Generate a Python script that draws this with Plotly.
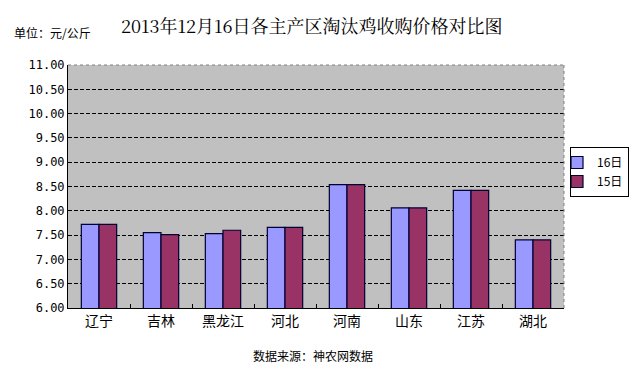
import plotly.graph_objects as go

categories = ["辽宁", "吉林", "黑龙江", "河北", "河南", "山东", "江苏", "湖北"]
series_16 = [7.72, 7.55, 7.53, 7.66, 8.54, 8.06, 8.42, 7.40]
series_15 = [7.72, 7.51, 7.60, 7.66, 8.54, 8.06, 8.42, 7.40]
tick_vals = [6.0, 6.5, 7.0, 7.5, 8.0, 8.5, 9.0, 9.5, 10.0, 10.5, 11.0]
tick_text = ["%.2f" % v for v in tick_vals]

W, H = 630, 368
L, R, T, B = 68, 66, 65, 60
pw, ph = W - L - R, H - T - B
def px(xp): return (xp - L) / pw
def py(yp): return (H - B - yp) / ph

fig = go.Figure()
fig.add_trace(go.Bar(name="16日", x=categories, y=series_16,
                     marker=dict(color="#9999FF", line=dict(color="#000033", width=1.2))))
fig.add_trace(go.Bar(name="15日", x=categories, y=series_15,
                     marker=dict(color="#993366", line=dict(color="#000033", width=1.2))))

fig.update_layout(
    width=W, height=H,
    margin=dict(l=L, r=R, t=T, b=B, autoexpand=False),
    paper_bgcolor="white", plot_bgcolor="#C0C0C0",
    barmode="group", bargap=0.43, bargroupgap=0,
    font=dict(family="Noto Sans CJK SC", color="black"),
    showlegend=True,
    legend=dict(x=px(570), y=py(147), xanchor="left", yanchor="top",
                bgcolor="white", bordercolor="black", borderwidth=1,
                font=dict(size=12, family="Noto Sans CJK SC"),
                itemwidth=30, tracegroupgap=0, indentation=-14),
    annotations=[
        dict(text="2013年12月16日各主产区淘汰鸡收购价格对比图", x=px(312), y=py(25),
             xref="paper", yref="paper", xanchor="center", yanchor="middle",
             showarrow=False, font=dict(size=18, family="Noto Serif CJK SC, Noto Sans CJK SC")),
        dict(text="单位：元/公斤", x=px(12), y=py(33), xref="paper", yref="paper",
             xanchor="left", yanchor="middle",
             showarrow=False, font=dict(size=12)),
        dict(text="数据来源：神农网数据", x=px(313), y=py(355), xref="paper", yref="paper",
             xanchor="center", yanchor="middle",
             showarrow=False, font=dict(size=12)),
    ],
)

fig.update_yaxes(range=[6, 11], tickvals=tick_vals, ticktext=tick_text,
                 showgrid=True, gridcolor="black", griddash="4px,2px", gridwidth=1,
                 showline=True, linecolor="black", linewidth=1, ticks="",
                 tickfont=dict(size=12, family="DejaVu Sans Mono"), zeroline=False)
fig.update_xaxes(showline=True, linecolor="black", linewidth=1,
                 ticks="inside", tickson="boundaries", ticklen=4, tickcolor="black",
                 tickfont=dict(size=14), mirror=False)
fig.add_shape(type="line", xref="paper", yref="paper", x0=0, x1=1, y0=1, y1=1,
              line=dict(color="#808080", width=1, dash="dot"))
fig.add_shape(type="line", xref="paper", yref="paper", x0=1, x1=1, y0=0, y1=1,
              line=dict(color="#808080", width=1, dash="dot"))

fig.write_html("out.html", config={"displayModeBar": False},
               post_script="document.body.style.margin='0';")
